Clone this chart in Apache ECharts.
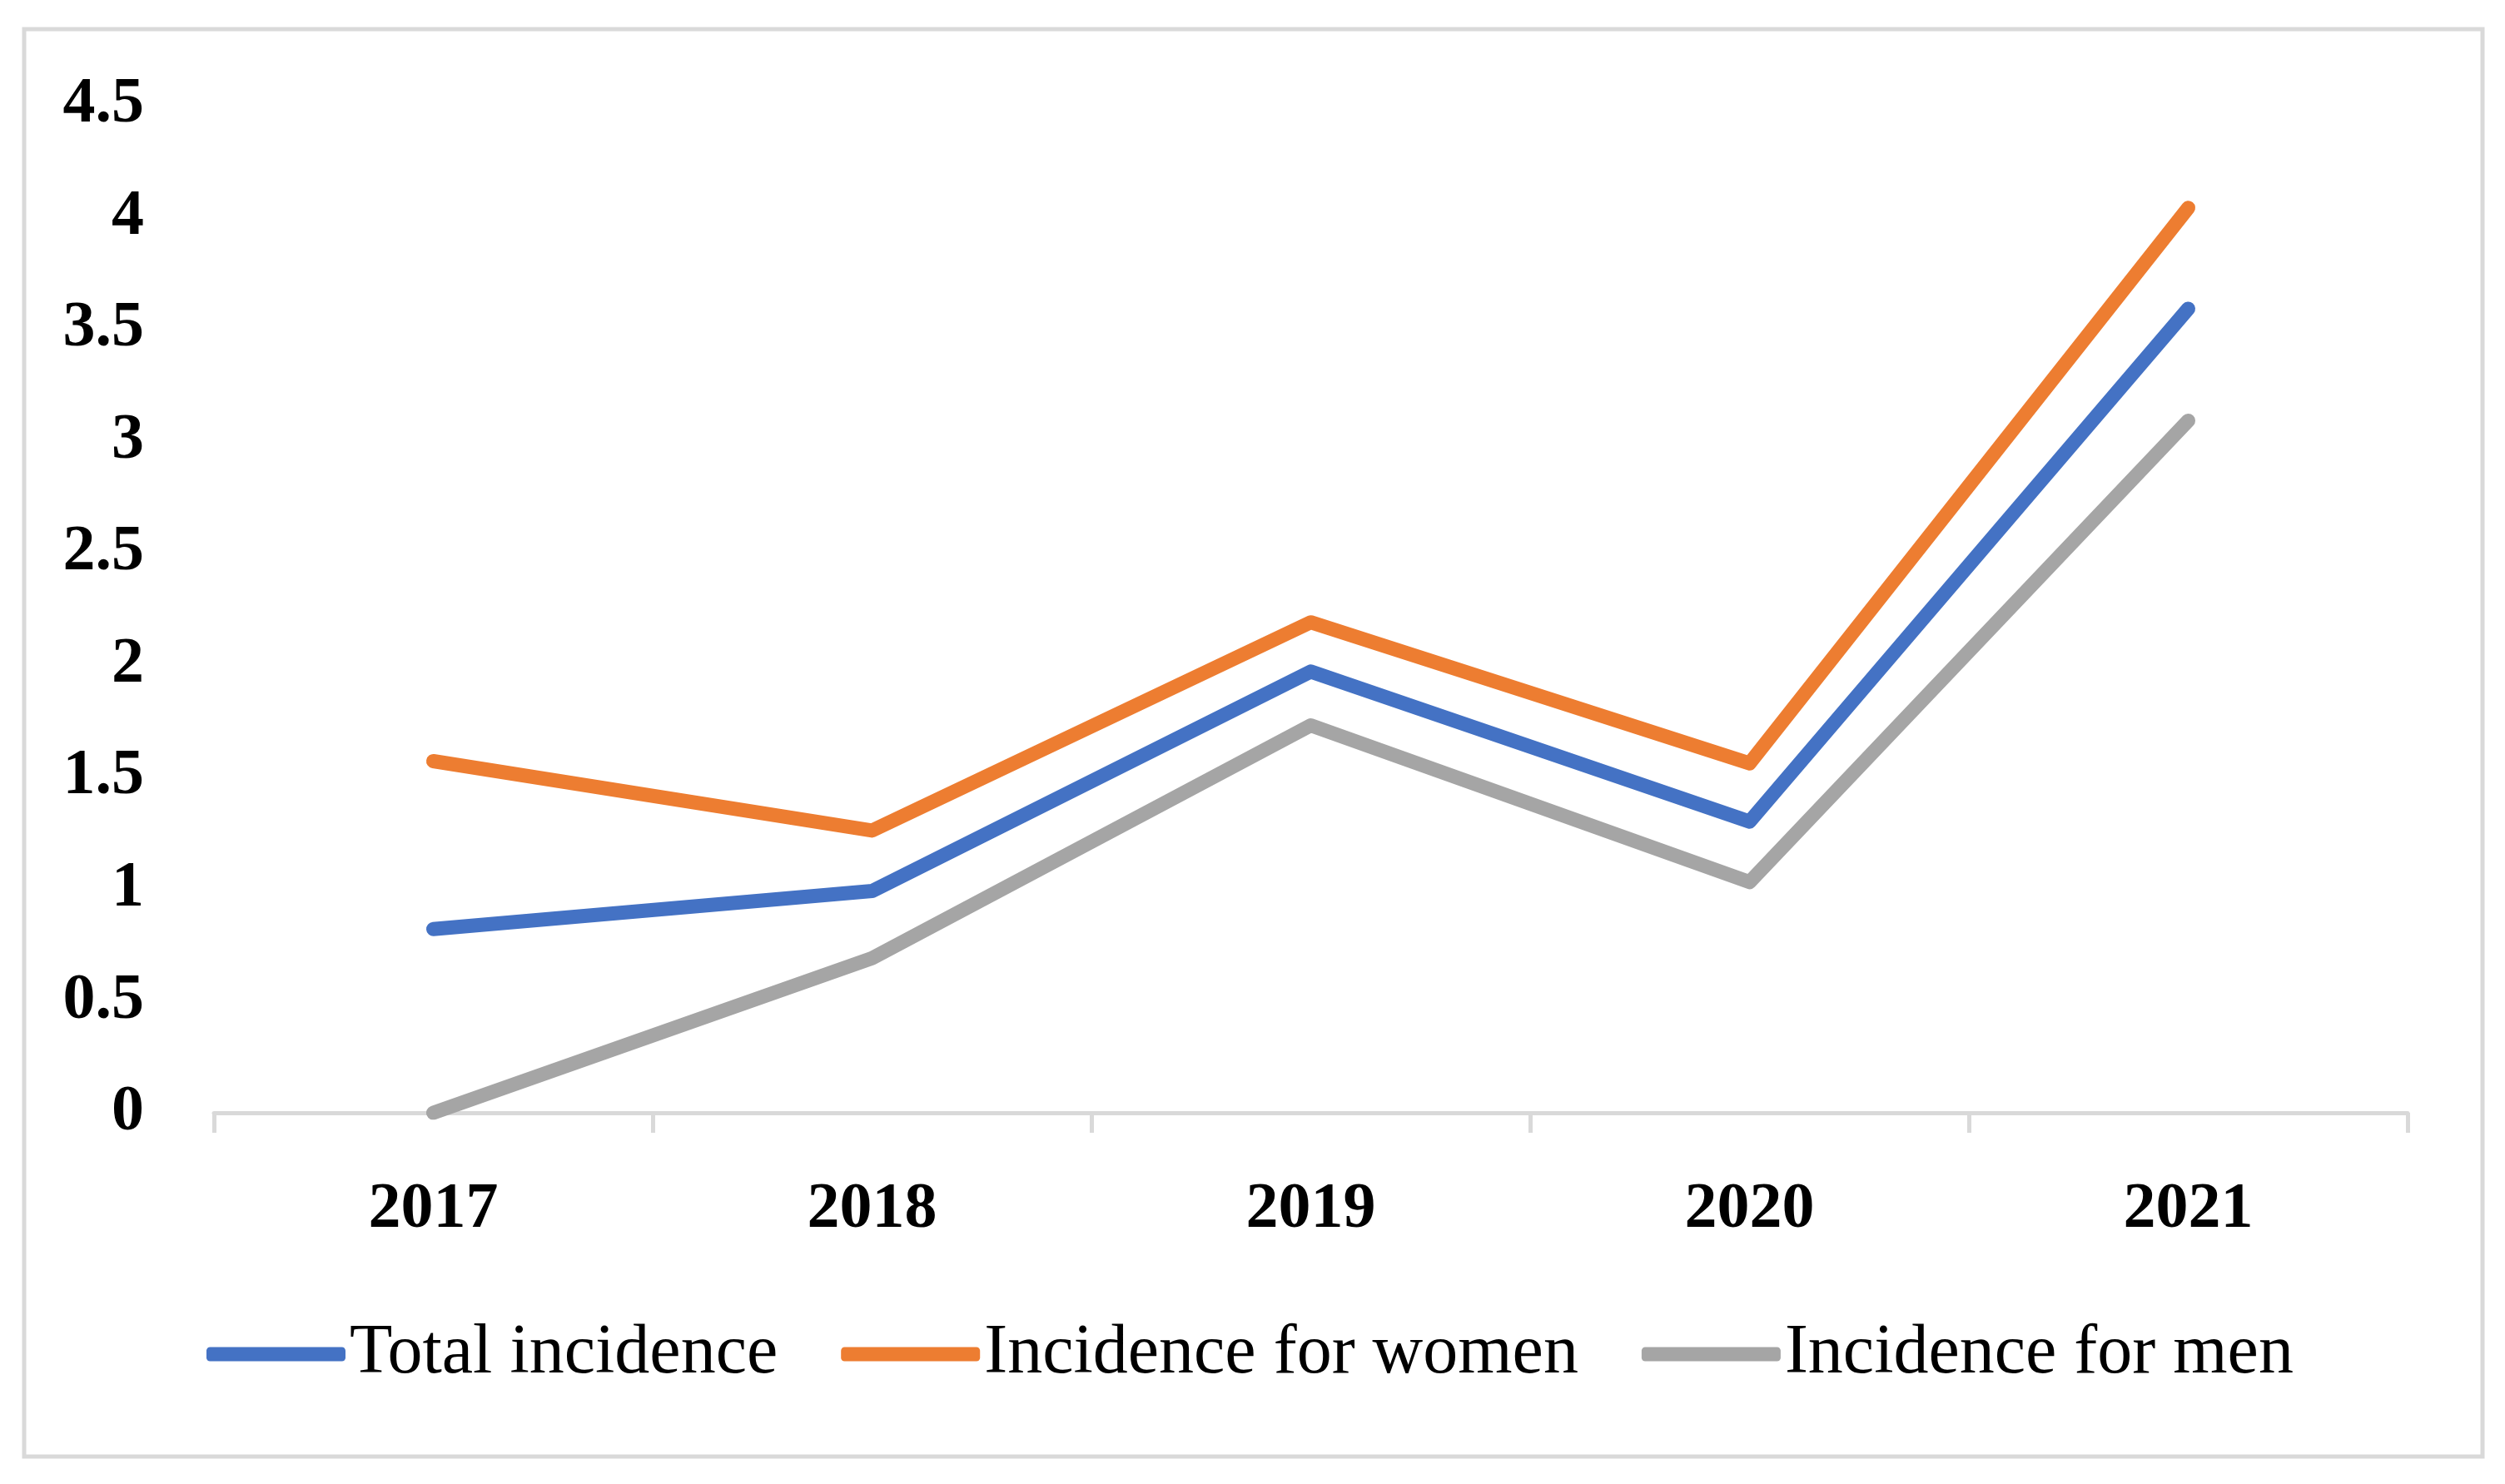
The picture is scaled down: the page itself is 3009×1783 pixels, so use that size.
<!DOCTYPE html>
<html>
<head>
<meta charset="utf-8">
<script src="https://cdn.jsdelivr.net/npm/echarts@6/dist/echarts.min.js"></script>
<style>
html,body{margin:0;padding:0;background:#fff;}
#chart{width:3009px;height:1783px;}
</style>
</head>
<body>
<div id="chart"></div>
<script>
const categories = ['2017', '2018', '2019', '2020', '2021'];
const totalIncidence = [0.82, 0.99, 1.97, 1.30, 3.59];
const womenIncidence = [1.57, 1.26, 2.19, 1.56, 4.04];
const menIncidence = [0, 0.69, 1.73, 1.03, 3.09];
const seriesNames = ['Total incidence', 'Incidence for women', 'Incidence for men'];
const colors = ['#4472C4', '#ED7D31', '#A5A5A5'];

const chart = echarts.init(document.getElementById('chart'), null, {renderer: 'canvas'});
const fontFamily = '"Liberation Serif", "DejaVu Serif", serif';

function lineSeries(name, data, color) {
  return {
    name: name,
    type: 'line',
    data: data,
    symbol: 'none',
    showSymbol: false,
    lineStyle: {color: color, width: 17, cap: 'round', join: 'round'},
    itemStyle: {color: color},
    emphasis: {disabled: true},
    animation: false
  };
}

chart.setOption({
  animation: false,
  backgroundColor: '#ffffff',
  graphic: [{
    type: 'rect',
    shape: {x: 29, y: 35, width: 2953, height: 1715},
    style: {fill: 'none', stroke: '#D9D9D9', lineWidth: 5},
    silent: true
  }],
  grid: {left: 257, right: 117, top: 126, bottom: 446, containLabel: false},
  legend: {
    data: seriesNames,
    left: 243,
    top: 1580,
    itemWidth: 167,
    itemHeight: 17,
    itemGap: 76,
    icon: 'roundRect',
    textStyle: {fontFamily: fontFamily, fontSize: 84, color: '#000', fontWeight: 'normal'}
  },
  xAxis: {
    type: 'category',
    data: categories,
    boundaryGap: true,
    axisLine: {show: true, lineStyle: {color: '#D9D9D9', width: 5}},
    axisTick: {show: true, length: 24, lineStyle: {color: '#D9D9D9', width: 5}},
    axisLabel: {fontFamily: fontFamily, fontSize: 78, fontWeight: 'bold', color: '#000', margin: 78},
    splitLine: {show: false}
  },
  yAxis: {
    type: 'value',
    min: 0,
    max: 4.5,
    interval: 0.5,
    axisLine: {show: false},
    axisTick: {show: false},
    splitLine: {show: false},
    axisLabel: {fontFamily: fontFamily, fontSize: 78, fontWeight: 'bold', color: '#000', margin: 84}
  },
  series: [
    lineSeries(seriesNames[0], totalIncidence, colors[0]),
    lineSeries(seriesNames[1], womenIncidence, colors[1]),
    lineSeries(seriesNames[2], menIncidence, colors[2])
  ]
});
</script>
</body>
</html>
